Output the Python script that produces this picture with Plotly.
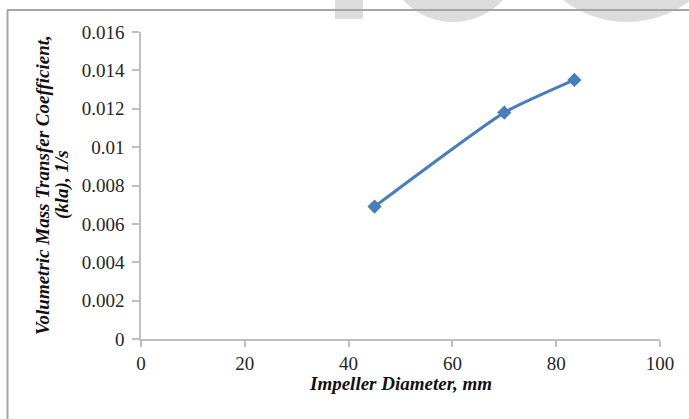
import plotly.graph_objects as go

# Data
impeller_diameter_mm = [45, 70, 83.5]
kla_per_s = [0.0069, 0.0118, 0.0135]
y_tick_vals = [0, 0.002, 0.004, 0.006, 0.008, 0.01, 0.012, 0.014, 0.016]
y_tick_text = ["0", "0.002", "0.004", "0.006", "0.008", "0.01", "0.012", "0.014", "0.016"]
x_tick_vals = [0, 20, 40, 60, 80, 100]

W, H = 689, 419
ML, MR, MT, MB = 141, 29, 32, 80
PW, PH = W - ML - MR, H - MT - MB


def px(xp):
    return (xp - ML) / PW


def py(yp):
    return (H - MB - yp) / PH


FONT = "Liberation Serif, Times New Roman, serif"
AX = "#bfbfbf"
BLUE = "#4A7EBB"
WM = "#dcdcdc"
TXT = "#262626"

fig = go.Figure()
fig.add_trace(go.Scatter(
    x=impeller_diameter_mm, y=kla_per_s, mode="lines+markers",
    line=dict(color=BLUE, width=3, shape="spline", smoothing=0.5),
    marker=dict(symbol="diamond", size=11, color=BLUE),
    showlegend=False, cliponaxis=False,
))

shapes = [
    # watermark shapes
    dict(type="rect", xref="paper", yref="paper", x0=px(335), x1=px(363), y0=py(19), y1=py(-2),
         fillcolor=WM, line=dict(width=0), layer="below"),
    dict(type="circle", xref="paper", yref="paper", x0=px(385), x1=px(521), y0=py(22), y1=py(-114),
         fillcolor=WM, line=dict(width=0), layer="below"),
    dict(type="circle", xref="paper", yref="paper", x0=px(523), x1=px(731), y0=py(22), y1=py(-186),
         fillcolor=WM, line=dict(width=0), layer="below"),
    # outer frame (left and top)
    dict(type="line", xref="paper", yref="paper", x0=px(7.5), x1=px(7.5), y0=py(10), y1=py(420),
         line=dict(color="#a6a6a6", width=2)),
    dict(type="line", xref="paper", yref="paper", x0=px(7), x1=px(690), y0=py(10), y1=py(10),
         line=dict(color="#a6a6a6", width=2)),
]

annotations = [
    dict(text="<b><i>Volumetric Mass Transfer Coefficient,</i></b>", xref="paper", yref="paper",
         x=px(42), y=py(185), textangle=-90, showarrow=False, xanchor="center", yanchor="middle",
         font=dict(family=FONT, size=19, color="#111111")),
    dict(text="<b><i>(kla), 1/s</i></b>", xref="paper", yref="paper",
         x=px(62), y=py(185), textangle=-90, showarrow=False, xanchor="center", yanchor="middle",
         font=dict(family=FONT, size=19, color="#111111")),
    dict(text="<b><i>Impeller Diameter, mm</i></b>", xref="paper", yref="paper",
         x=0.5, y=py(383), showarrow=False, xanchor="center", yanchor="middle",
         font=dict(family=FONT, size=19, color="#111111")),
]

fig.update_layout(
    width=W, height=H,
    margin=dict(l=ML, r=MR, t=MT, b=MB, autoexpand=False),
    paper_bgcolor="white", plot_bgcolor="white",
    font=dict(family=FONT, size=19, color=TXT),
    shapes=shapes, annotations=annotations,
    xaxis=dict(range=[0, 100], tickvals=x_tick_vals, showgrid=False, zeroline=False,
               showline=True, linecolor=AX, linewidth=1.5, ticks="outside", tickcolor=AX,
               ticklen=6, tickwidth=1.5, tickfont=dict(family=FONT, size=19, color=TXT)),
    yaxis=dict(range=[0, 0.016], tickvals=y_tick_vals, ticktext=y_tick_text, showgrid=False,
               zeroline=False, showline=True, linecolor=AX, linewidth=1.5, ticks="outside",
               tickcolor=AX, ticklen=7, tickwidth=1.5, ticklabelstandoff=4,
               tickfont=dict(family=FONT, size=19, color=TXT)),
)

fig.write_html("out.html", config={"displayModeBar": False},
               post_script="document.body.style.margin='0px';document.body.style.overflow='hidden';")
